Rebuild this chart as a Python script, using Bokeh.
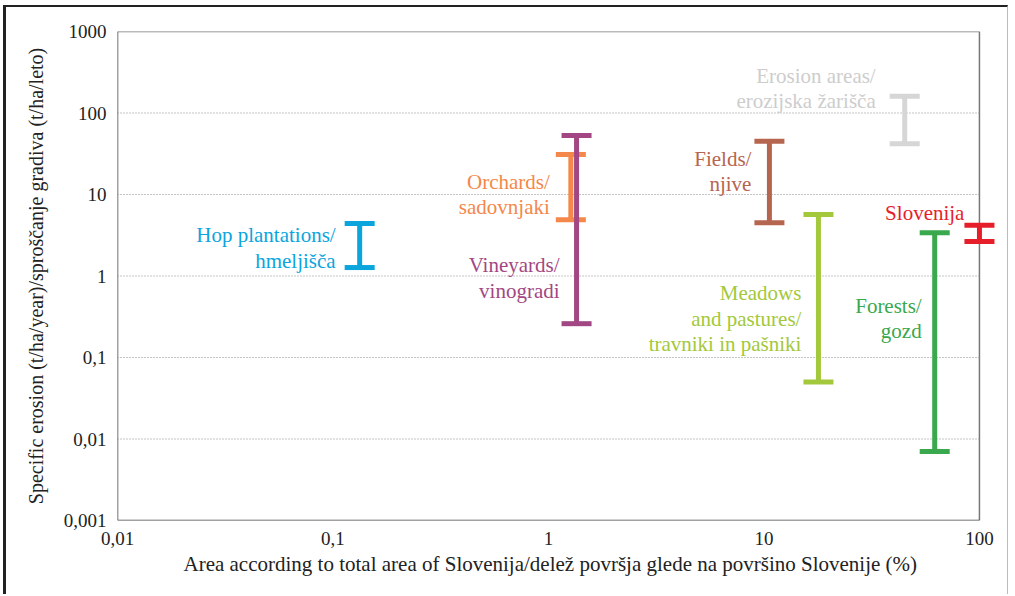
from bokeh.plotting import figure
from bokeh.models import (ColumnDataSource, Whisker, TeeHead, FixedTicker,
                          CustomJSTickFormatter, Title)
from bokeh.core.properties import value
from bokeh.embed import file_html
from bokeh.resources import INLINE

# ---- data ----
names = ["Hop plantations/\nhmeljišča", "Orchards/\nsadovnjaki", "Vineyards/\nvinogradi",
         "Fields/\nnjive", "Erosion areas/\nerozijska žarišča", "Meadows\nand pastures/\ntravniki in pašniki",
         "Forests/\ngozd", "Slovenija"]
area = [0.133, 1.27, 1.35, 10.6, 45, 17.9, 62, 100]
erosion_low = [1.27, 4.9, 0.26, 4.5, 42, 0.05, 0.007, 2.65]
erosion_high = [4.4, 31, 53, 45, 160, 5.7, 3.4, 4.2]
y_ticks = [0.001, 0.01, 0.1, 1, 10, 100, 1000]
x_ticks = [0.01, 0.1, 1, 10, 100]

# ---- styles / label layout ----
colors = ["#0ba5dd", "#f4874a", "#a24783", "#b6654f", "#d6d6d6", "#a3c83b", "#3aa84c", "#e61e2a"]
text_colors = ["#0ba5dd", "#f4874a", "#a24783", "#b6654f", "#cdcdcd", "#a3c83b", "#3aa84c", "#e61e2a"]
label_y = [2.21, 10, 0.94, 19.1, 200, 0.30, 0.30, 6.0]
label_dx = [-24, -21, -17, -18, -29, -17, -13, -15]

FONT = "Liberation Serif"
X_END_PAD = 1.239  # room right of the last tick so end caps are not clipped

p = figure(width=1005, height=589, x_axis_type="log", y_axis_type="log",
           x_range=(x_ticks[0], x_ticks[-1] * X_END_PAD), y_range=(y_ticks[0], y_ticks[-1]),
           output_backend="svg", toolbar_location=None,
           min_border_left=111, min_border_right=12, min_border_top=24, min_border_bottom=76)
p.styles = {"margin-left": "3px", "margin-top": "5px",
            "border-left": "3px solid #222222", "border-top": "2px solid #222222",
            "border-right": "1px solid #bbbbbb"}

p.outline_line_color = None
p.xgrid.grid_line_color = None
p.ygrid.grid_line_color = None

# frame of the plotting area (ends at the last ticks)
fx0, fx1, fy0, fy1 = x_ticks[0], x_ticks[-1], y_ticks[0], y_ticks[-1]
p.multi_line(xs=[[fx0, fx1, fx1], [fx0, fx0, fx1]], ys=[[fy1, fy1, fy0], [fy1, fy0, fy0]],
             line_color=["#777777", "#444444"], line_width=1.5, level="underlay")
# dotted horizontal grid lines
gy = y_ticks[1:-1]
p.segment(x0=[fx0] * len(gy), x1=[fx1] * len(gy), y0=gy, y1=gy,
          line_color="#8a8a8a", line_width=1, line_dash="1 2", level="underlay")

fmt = CustomJSTickFormatter(code="return tick.toString().replace('.', ',');")
for ax, ticks in ((p.xaxis, x_ticks), (p.yaxis, y_ticks)):
    ax.ticker = FixedTicker(ticks=ticks, minor_ticks=[])
    ax.formatter = fmt
    ax.major_tick_line_color = None
    ax.minor_tick_line_color = None
    ax.axis_line_color = None
    ax.major_label_text_font = FONT
    ax.major_label_text_font_size = "19px"
    ax.major_label_text_color = "#222222"
    ax.axis_label_text_font = FONT
    ax.axis_label_text_font_style = "normal"
    ax.axis_label_text_color = "#222222"

p.yaxis.axis_label = "Specific erosion (t/ha/year)/sproščanje gradiva (t/ha/leto)"
p.yaxis.axis_label_text_font_size = "20px"
p.xaxis.major_label_standoff = 5
p.yaxis.major_label_standoff = 5
p.yaxis.axis_label_standoff = 14

xt = Title(text="Area according to total area of Slovenija/delež površja glede na površino Slovenije (%)",
           align="left", offset=66, text_font=FONT, text_font_size="21px",
           text_font_style="normal", text_color="#222222", standoff=5)
p.add_layout(xt, "below")

for i in range(len(names)):
    src = ColumnDataSource(dict(x=[area[i]], lo=[erosion_low[i]], hi=[erosion_high[i]]))
    w = Whisker(source=src, base="x", lower="lo", upper="hi", dimension="height",
                line_color=colors[i], line_width=5,
                upper_head=TeeHead(size=30, line_color=colors[i], line_width=5),
                lower_head=TeeHead(size=30, line_color=colors[i], line_width=5))
    p.add_layout(w)

lsrc = ColumnDataSource(dict(x=area, y=label_y, t=names, c=text_colors, dx=label_dx))
p.text(x="x", y="y", text="t", text_color="c", x_offset="dx", source=lsrc,
       text_align="right", text_baseline="middle", text_font=value(FONT),
       text_font_size="21px", text_line_height=1.07)

open("out.html", "w").write(file_html(p, INLINE))
